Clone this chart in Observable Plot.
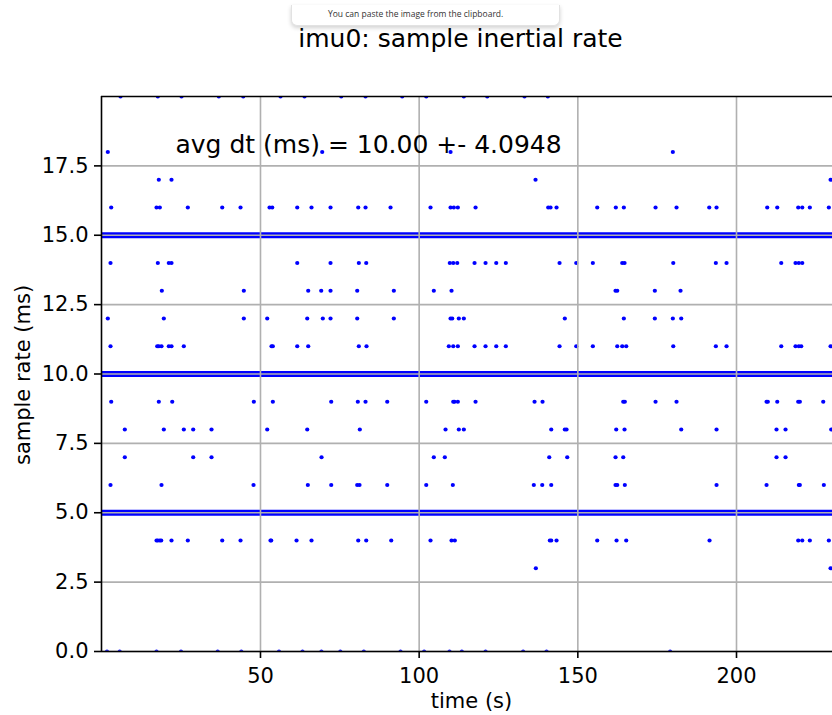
<!DOCTYPE html>
<html>
<head>
<meta charset="utf-8">
<script src="https://cdn.jsdelivr.net/npm/d3@7"></script>
<script src="https://cdn.jsdelivr.net/npm/@observablehq/plot@0.6"></script>
<style>
  html, body { margin: 0; padding: 0; background: #fff; overflow: hidden; }
  #wrap { position: relative; width: 832px; height: 715px; }
  #popup {
    position: absolute; left: 291px; top: 5px; width: 267px; height: 20px;
    background: #fff; border: 1px solid #e2e2e2; border-top: none;
    border-radius: 0 0 6px 6px; box-shadow: 0 2px 4px rgba(0,0,0,0.18);
    overflow: hidden;
  }
  #popup span {
    position: absolute; left: 36px; top: 3px; font-family: "Open Sans", sans-serif;
    font-size: 8.5px; line-height: 11px; color: #333; white-space: nowrap;
  }
  #chart { position: absolute; left: 0; top: 0; }
</style>
</head>
<body>
<div id="wrap">
  <div id="chart"></div>
  <div id="popup"><span>You can paste the image from the clipboard.</span></div>
</div>
<script>
// ---- texts ----
const titleText = ["imu0: sample inertial rate"];
const annotText = ["avg dt (ms) = 10.00 +- 4.0948"];
const xLabel = ["time (s)"];
const yLabel = ["sample rate (ms)"];

// ---- axes ----
const xDomain = [-0.1, 230.25];
const yDomain = [0, 20];
const xTicks = [50, 100, 150, 200];
const yTicks = [0, 2.5, 5, 7.5, 10, 12.5, 15, 17.5];

// ---- dense sample levels (nearly every sample) ----
const denseLevels = [5, 10, 15];

// ---- sparse outliers: time (s) per sample-rate level (ms) ----
const t0 = [1.64, 5.64, 17.24, 24.96, 36.52, 43.96, 55.84, 63.25, 69.20, 75.16, 82.56, 94.13, 101.57, 109.57, 113.45, 120.92, 132.76, 140.14, 179.09];
const t3 = [136.77, 229.64];
const t4 = [17.24, 17.65, 18.28, 18.72, 21.96, 27.10, 37.94, 43.71, 53.16, 53.38, 61.36, 66.08, 80.80, 83.32, 91.20, 103.58, 110.20, 111.24, 141.18, 141.62, 143.29, 156.11, 162.20, 165.25, 191.50, 219.45, 220.72, 223.11, 229.10];
const t6 = [2.74, 18.81, 47.80, 64.92, 72.29, 80.48, 81.21, 89.94, 102.23, 110.61, 136.13, 138.78, 141.62, 161.88, 162.42, 164.81, 193.71, 209.47, 219.64, 219.96, 227.52];
const t7 = [7.25, 28.80, 34.57, 69.24, 104.62, 108.09, 140.99, 146.66, 161.88, 164.31, 212.61, 215.45];
const t8 = [7.25, 19.54, 25.84, 28.80, 34.57, 52.12, 64.73, 81.30, 108.31, 112.50, 114.08, 141.62, 145.90, 146.44, 162.10, 164.72, 182.58, 193.71, 212.61, 215.45, 229.85];
const t9 = [2.96, 17.96, 22.19, 47.90, 53.89, 72.29, 80.67, 83.10, 89.94, 102.23, 110.74, 111.15, 112.19, 117.77, 136.36, 138.88, 164.31, 164.81, 174.49, 181.10, 209.47, 209.87, 212.84, 219.45, 219.96, 227.33];
const t11 = [2.74, 17.46, 17.96, 18.81, 21.11, 21.96, 25.84, 53.48, 53.89, 61.58, 65.04, 80.99, 83.41, 109.35, 110.74, 112.19, 117.45, 120.92, 124.29, 127.31, 144.24, 149.50, 154.73, 162.42, 163.99, 165.25, 180.07, 193.49, 196.86, 214.10, 218.60, 219.64, 220.40, 229.64];
const t12 = [1.89, 19.54, 44.75, 52.12, 64.73, 69.64, 72.07, 80.48, 92.02, 109.89, 110.42, 112.50, 114.08, 145.90, 164.50, 174.27, 179.94, 182.58];
const t13 = [18.91, 44.75, 65.04, 69.14, 72.07, 80.48, 92.02, 104.62, 110.20, 161.88, 162.42, 174.27, 182.36];
const t14 = [2.74, 17.65, 21.11, 21.96, 61.58, 72.07, 80.99, 83.32, 109.66, 110.74, 112.00, 117.45, 120.92, 124.29, 127.31, 144.24, 149.50, 154.73, 163.99, 164.72, 180.07, 193.49, 196.86, 214.10, 218.60, 219.64, 220.72];
const t16 = [2.96, 17.24, 18.28, 27.10, 37.94, 43.71, 52.85, 53.70, 61.58, 66.08, 72.07, 80.80, 83.10, 90.98, 103.58, 109.89, 110.93, 112.19, 117.77, 140.67, 141.40, 143.29, 156.11, 161.97, 164.50, 174.49, 181.10, 191.41, 193.71, 209.68, 212.84, 219.45, 220.72, 223.11, 229.10];
const t17 = [17.96, 21.96, 136.67, 229.64];
const t18 = [1.89, 69.45, 109.89, 179.94];
const t20 = [5.89, 17.65, 25.12, 36.87, 44.56, 56.31, 63.88, 75.44, 83.10, 94.66, 102.23, 114.08, 121.45, 133.20, 140.55];

const sparseLevels = [0, 3, 4, 6, 7, 8, 9, 11, 12, 13, 14, 16, 17, 18, 20];
const sparseTimes = [t0, t3, t4, t6, t7, t8, t9, t11, t12, t13, t14, t16, t17, t18, t20];

const points = sparseLevels.flatMap((v, i) => sparseTimes[i].map(t => ({t, v})));

const gridStyle = {stroke: "#b0b0b0", strokeOpacity: 1, strokeWidth: 1.6};
const fc = (101 + 832) / 2;

const chart = Plot.plot({
  width: 832,
  height: 715,
  marginTop: 96,
  marginBottom: 64,
  marginLeft: 101,
  marginRight: 0,
  style: {fontFamily: "DejaVu Sans", fontSize: "21px", color: "black", background: "white", overflow: "visible"},
  x: {domain: xDomain},
  y: {domain: yDomain},
  marks: [
    Plot.ruleY(denseLevels, {stroke: "#0000ff", strokeWidth: 6}),
    Plot.dot(points, {x: "t", y: "v", r: 2.1, fill: "#0000ff", stroke: "none", clip: true}),
    Plot.gridX(xTicks, gridStyle),
    Plot.gridY(yTicks, gridStyle),
    Plot.ruleX([xDomain[0]], {stroke: "black", strokeWidth: 1.6}),
    Plot.ruleY([yDomain[0], yDomain[1]], {stroke: "black", strokeWidth: 1.6}),
    Plot.axisX({ticks: xTicks, tickFormat: d => String(d), tickSize: 7, tickPadding: 10, strokeWidth: 1.6, fontSize: 21, label: null}),
    Plot.axisY({ticks: yTicks, tickFormat: d3.format(".1f"), tickSize: 7, tickPadding: 6, strokeWidth: 1.6, fontSize: 21, label: null}),
    Plot.text(titleText, {text: d => d, frameAnchor: "top", textAnchor: "middle", lineAnchor: "middle", dx: 460 - fc, dy: (46 - 0.32 * 25) - 96, fontSize: 25, fill: "black"}),
    Plot.text(annotText, {text: d => d, frameAnchor: "top-left", textAnchor: "start", lineAnchor: "middle", dx: 74, dy: (152 - 0.32 * 25) - 96, fontSize: 25, fill: "black"}),
    Plot.text(xLabel, {text: d => d, frameAnchor: "bottom", textAnchor: "middle", lineAnchor: "middle", dx: 471 - fc, dy: (707 - 0.32 * 21) - 651, fontSize: 21, fill: "black"}),
    Plot.text(yLabel, {text: d => d, frameAnchor: "left", textAnchor: "middle", lineAnchor: "middle", rotate: -90, dx: 23 - 101, dy: 1, fontSize: 21, fill: "black"})
  ]
});
document.getElementById("chart").appendChild(chart);
</script>
</body>
</html>
